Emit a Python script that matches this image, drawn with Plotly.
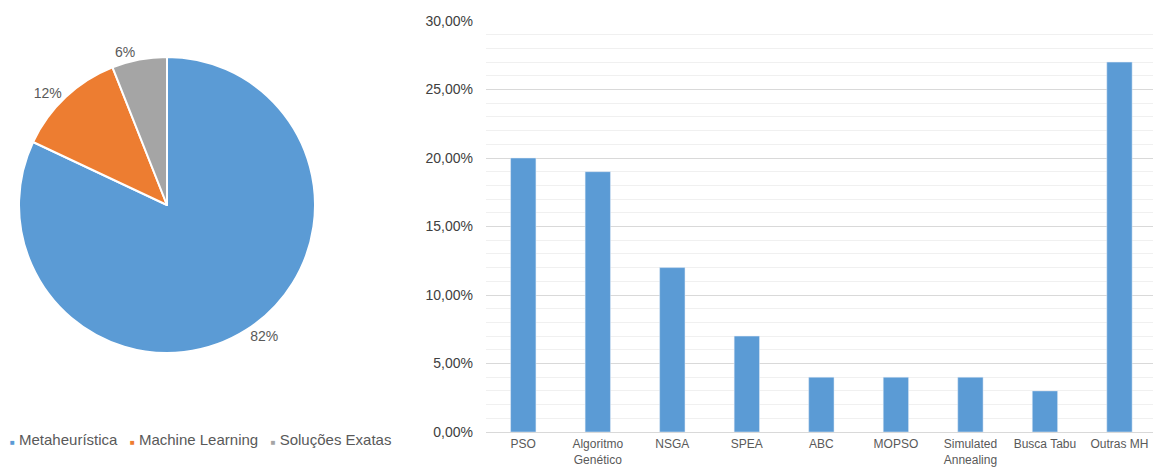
import plotly.graph_objects as go

# Pie: share of solution approaches
pie_labels = ["Metaheurística", "Machine Learning", "Soluções Exatas"]
pie_values = [82, 12, 6]
pie_colors = ["#5B9BD5", "#ED7D31", "#A5A5A5"]

# Bars: share of each metaheuristic
bar_categories = ["PSO", "Algoritmo<br>Genético", "NSGA", "SPEA", "ABC", "MOPSO",
                  "Simulated<br>Annealing", "Busca Tabu", "Outras MH"]
bar_values = [0.20, 0.19, 0.12, 0.07, 0.04, 0.04, 0.04, 0.03, 0.27]
bar_color = "#5B9BD5"

W, H = 1153, 467
text_color = "#595959"
font_family = "Liberation Sans, Arial, sans-serif"

fig = go.Figure()

fig.add_trace(go.Pie(
    labels=pie_labels,
    values=pie_values,
    marker=dict(colors=pie_colors, line=dict(color="white", width=2)),
    sort=False,
    direction="clockwise",
    rotation=0,
    textinfo="percent",
    textposition="outside",
    textfont=dict(size=14, color=text_color, family=font_family),
    domain=dict(x=[19 / W, 315 / W], y=[1 - 353 / H, 1 - 57 / H]),
    showlegend=False,
))

fig.add_trace(go.Bar(
    x=bar_categories,
    y=bar_values,
    marker=dict(color=bar_color),
    xaxis="x",
    yaxis="y",
    showlegend=False,
))

# Legend for the pie, drawn as a text row under it
legend_parts = []
for lab, col in zip(pie_labels, pie_colors):
    legend_parts.append(
        f"<span style='color:{col};font-size:8px'>■</span> {lab}"
    )
fig.add_annotation(
    x=8 / W, y=1 - 439 / H, xref="paper", yref="paper",
    xanchor="left", yanchor="middle", showarrow=False,
    text="&nbsp;&nbsp;&nbsp;".join(legend_parts),
    font=dict(size=15, color=text_color, family=font_family),
)

fig.update_layout(
    width=W, height=H,
    margin=dict(l=0, r=0, t=0, b=0, autoexpand=False),
    paper_bgcolor="white",
    plot_bgcolor="white",
    separators=",.",
    bargap=0.66,
    font=dict(family=font_family, color=text_color, size=12),
    xaxis=dict(
        domain=[486 / W, 1],
        range=[-0.5, 8.45],
        automargin=False,
        showline=True, linecolor="#d9d9d9", linewidth=1,
        showgrid=False, ticks="",
        ticklabelstandoff=1,
        tickfont=dict(size=12, color=text_color),
    ),
    yaxis=dict(
        domain=[1 - 432 / H, 1 - 21 / H],
        range=[0, 0.30],
        dtick=0.05,
        tickformat=".2%",
        automargin=False,
        showgrid=True, gridcolor="#d9d9d9", gridwidth=1,
        minor=dict(dtick=0.01, showgrid=True, gridcolor="#f0f0f0", gridwidth=1),
        zeroline=False, showline=False, ticks="",
        ticklabelstandoff=12,
        tickfont=dict(size=14, color="#404040"),
    ),
)

fig.write_html("out.html")
